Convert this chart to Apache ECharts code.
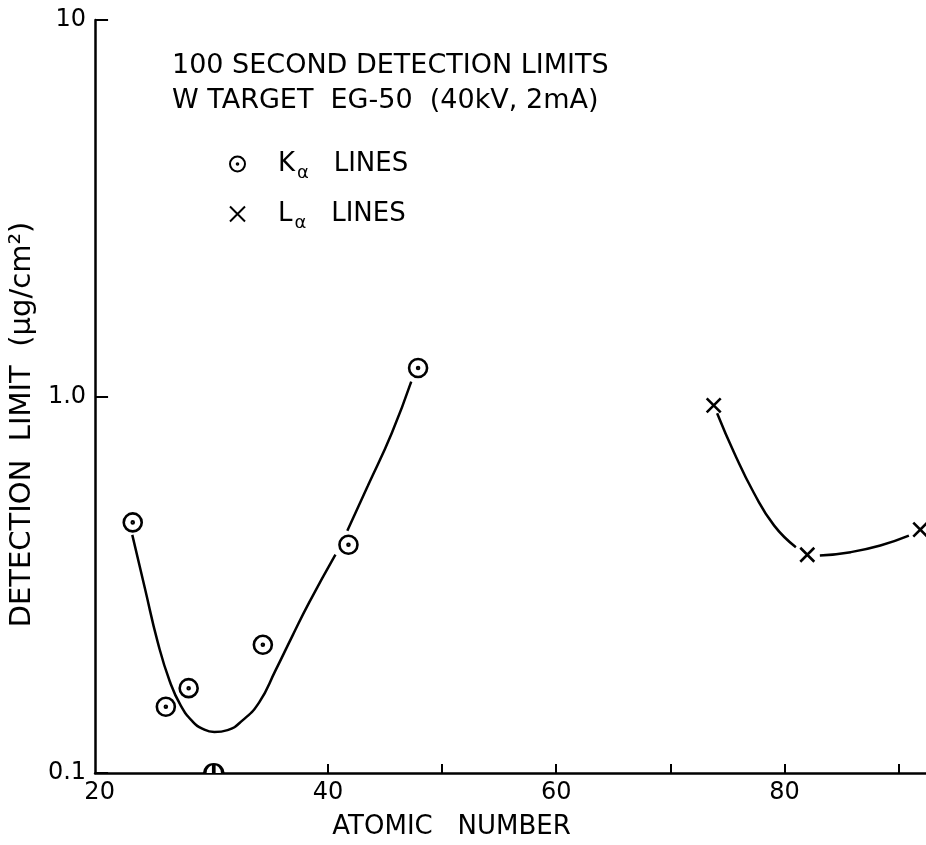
<!DOCTYPE html>
<html>
<head>
<meta charset="UTF-8">
<title>Detection limits</title>
<script src="https://cdn.jsdelivr.net/npm/echarts@6/dist/echarts.min.js"></script>
<style>
  html, body { margin: 0; padding: 0; background: #fff; }
  #chart { width: 926px; height: 845px; }
</style>
</head>
<body>
<div id="chart"></div>
<script type="text/javascript">
// values
var kaZ = [22.9, 25.8, 27.8, 30.0, 34.3, 41.8, 47.9];
var kaLimit = [0.463, 0.150, 0.168, 0.100, 0.219, 0.404, 1.19];
var laZ = [73.8, 82.0, 91.9];
var laLimit = [0.947, 0.380, 0.443];

// hand drawn fit curves (broken where they meet a marker)
var kaFitAZ = [22.86, 23.96, 25.10, 26.15, 27.11, 28.15, 29.03, 30.05, 31.21, 32.52, 33.98, 35.40, 36.88, 38.34, 40.66];
var kaFitAY = [0.429, 0.310, 0.222, 0.175, 0.151, 0.137, 0.131, 0.1285, 0.130, 0.138, 0.154, 0.187, 0.231, 0.283, 0.380];
var kaFitBZ = [41.7, 43.5, 45.6, 47.3];
var kaFitBY = [0.440, 0.579, 0.800, 1.095];
var laFitAZ = [74.1, 75.6, 77.3, 79.1, 81.0];
var laFitAY = [0.903, 0.708, 0.556, 0.454, 0.398];
var laFitBZ = [83.1, 85.8, 88.4, 90.9];
var laFitBY = [0.378, 0.386, 0.402, 0.427];

var xLabels = [20, 40, 60, 80];
var xTicks = [30, 40, 50, 60, 70, 80, 90];

var FONT = 'DejaVu Sans';
var dotCircle = 'path://M10,0A10,10,0,1,1,10,20A10,10,0,1,1,10,0ZM10,8.9A1.1,1.1,0,1,1,10,11.1A1.1,1.1,0,1,1,10,8.9Z';
var halfCircle = 'path://M0,10A10,10,0,0,1,20,10M10,0L10,10';
var cross = 'path://M0,0L20,20M20,0L0,20';

function pairs(xs, ys) {
  return xs.map(function (x, i) { return [x, ys[i]]; });
}

var kaData = kaZ.map(function (z, i) {
  var item = { value: [z, kaLimit[i]] };
  if (kaLimit[i] <= 0.1) {
    // sits on the axis, only top half visible
    item.symbol = halfCircle;
    item.symbolSize = [18, 9];
    item.symbolOffset = [0, -4.5];
  }
  return item;
});

function fitLine(data) {
  return {
    type: 'line', data: data, smooth: 0.5, showSymbol: false, silent: true,
    lineStyle: { color: '#000', width: 2.5 }, z: 1
  };
}

var chart = echarts.init(document.getElementById('chart'));
var option = {
  animation: false,
  backgroundColor: '#fff',
  title: {
    text: '100 SECOND DETECTION LIMITS\nW TARGET  EG-50  (40kV, 2mA)',
    left: 172, top: 48, padding: 0,
    textStyle: { fontFamily: FONT, fontSize: 27, fontWeight: 'normal', color: '#000', lineHeight: 35 }
  },
  legend: {
    data: ['Kα LINES', 'Lα LINES'],
    orient: 'vertical', left: 229, top: 146, padding: 0,
    itemWidth: 15, itemHeight: 15, itemGap: 14,
    formatter: function (name) {
      return '{b|' + name.charAt(0) + '}{s|α}{b|   LINES}';
    },
    textStyle: {
      padding: [0, 0, 0, 28],
      rich: {
        b: { fontFamily: FONT, fontSize: 26, color: '#000', lineHeight: 30 },
        s: { fontFamily: FONT, fontSize: 18, color: '#000', lineHeight: 30, padding: [18, 0, 0, 2] }
      }
    }
  },
  grid: { left: 92, right: 0, top: 20, bottom: 67, containLabel: false },
  xAxis: {
    type: 'value', min: 19.6, max: 92.4,
    name: 'ATOMIC   NUMBER', nameLocation: 'middle', nameGap: 41,
    nameTextStyle: { fontFamily: FONT, fontSize: 26, color: '#000', padding: [0, 118, 0, 0] },
    axisLine: { lineStyle: { color: '#000', width: 2.5 } },
    axisTick: { inside: true, length: 9, customValues: xTicks, lineStyle: { color: '#000', width: 2 } },
    axisLabel: { customValues: xLabels, margin: 8, fontFamily: FONT, fontSize: 24, color: '#000' },
    splitLine: { show: false }
  },
  yAxis: {
    type: 'log', logBase: 10, min: 0.1, max: 10,
    name: 'DETECTION  LIMIT  (μg/cm²)', nameLocation: 'middle', nameRotate: 90, nameGap: 57,
    nameTextStyle: { fontFamily: FONT, fontSize: 29, color: '#000', padding: [0, 56, 0, 0] },
    axisLine: { show: true, lineStyle: { color: '#000', width: 2.5 } },
    axisTick: { show: true, inside: true, length: 13, lineStyle: { color: '#000', width: 2 } },
    axisLabel: {
      margin: 9, fontFamily: FONT, fontSize: 24, color: '#000',
      formatter: function (v) { return v >= 9 ? '10' : (v >= 0.9 ? '1.0' : '0.1'); }
    },
    minorTick: { show: false },
    splitLine: { show: false }
  },
  series: [
    {
      name: 'Kα LINES', type: 'scatter', data: kaData, clip: false,
      symbol: dotCircle, symbolSize: 18, z: 3,
      itemStyle: { color: '#fff', borderColor: '#000', borderWidth: 2.6, opacity: 1 }
    },
    {
      name: 'Lα LINES', type: 'scatter', data: pairs(laZ, laLimit), clip: false,
      symbol: cross, symbolSize: 14, z: 3,
      itemStyle: { color: '#000', borderColor: '#000', borderWidth: 2.6, opacity: 1 }
    },
    fitLine(pairs(kaFitAZ, kaFitAY)),
    fitLine(pairs(kaFitBZ, kaFitBY)),
    fitLine(pairs(laFitAZ, laFitAY)),
    fitLine(pairs(laFitBZ, laFitBY))
  ]
};
chart.setOption(option);
</script>
</body>
</html>
